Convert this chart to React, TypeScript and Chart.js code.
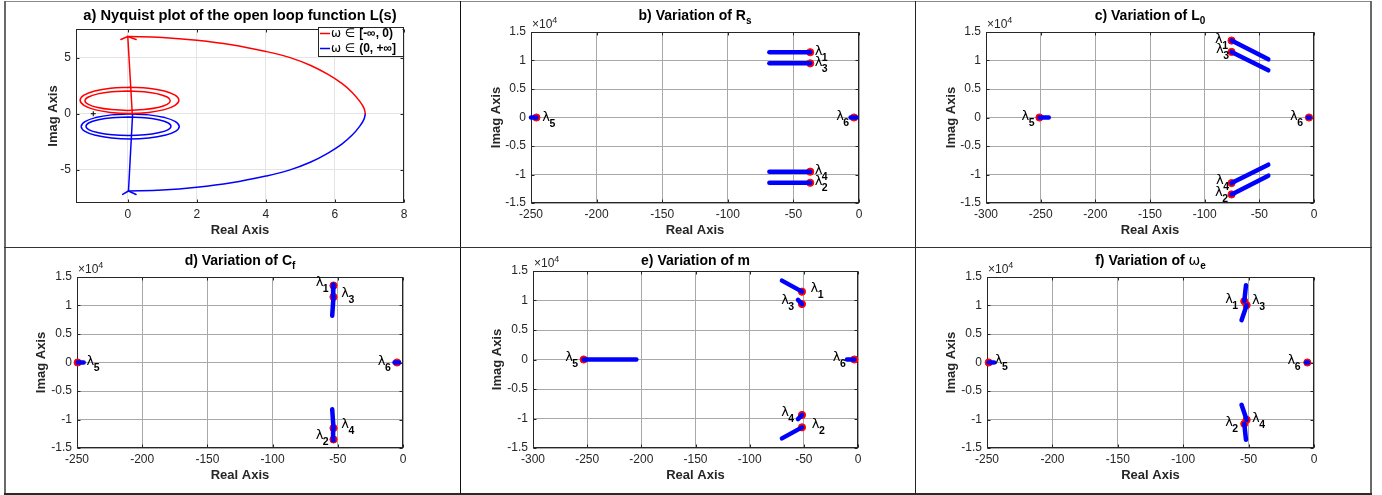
import React, { useEffect, useRef } from 'react';
import { Chart, registerables } from 'chart.js';
Chart.register(...registerables);

const FONT = "'Liberation Sans', Arial, Helvetica, sans-serif";
const GREEK = "'DejaVu Sans', 'Liberation Sans', sans-serif";
const RED = '#ff0000';
const BLUE = '#0000ff';
const TICKCOL = '#262626';

// ---------------- a) Nyquist plot data ----------------
const nyqXTicks = [0, 2, 4, 6, 8];
const nyqYTicks = [-5, 0, 5];

const redLoopOuterRe = [0.05, -0.5, -0.96, -1.27, -1.38, -1.27, -0.96, -0.5, 0.05, 0.6, 1.06, 1.37, 1.48, 1.37, 1.06, 0.6, 0.05];
const redLoopOuterIm = [2.37, 2.28, 2.03, 1.65, 1.2, 0.75, 0.37, 0.12, 0.03, 0.12, 0.37, 0.75, 1.2, 1.65, 2.03, 2.28, 2.37];
const redLoopInnerRe = [0, -0.47, -0.87, -1.14, -1.24, -1.14, -0.87, -0.47, 0, 0.47, 0.87, 1.14, 1.23, 1.14, 0.87, 0.47, 0];
const redLoopInnerIm = [2.02, 1.95, 1.77, 1.49, 1.16, 0.83, 0.55, 0.37, 0.3, 0.37, 0.55, 0.83, 1.16, 1.49, 1.77, 1.95, 2.02];
const blueLoopOuterRe = [0.07, -0.47, -0.93, -1.24, -1.35, -1.24, -0.93, -0.47, 0.07, 0.61, 1.07, 1.38, 1.49, 1.38, 1.07, 0.61, 0.07];
const blueLoopOuterIm = [-0.01, -0.1, -0.34, -0.7, -1.13, -1.56, -1.92, -2.16, -2.25, -2.16, -1.92, -1.56, -1.13, -0.7, -0.34, -0.1, -0.01];
const blueLoopInnerRe = [0.02, -0.45, -0.85, -1.12, -1.21, -1.12, -0.85, -0.45, 0.02, 0.49, 0.89, 1.16, 1.25, 1.16, 0.89, 0.49, 0.02];
const blueLoopInnerIm = [-0.3, -0.36, -0.54, -0.8, -1.12, -1.43, -1.69, -1.87, -1.93, -1.87, -1.69, -1.43, -1.12, -0.8, -0.54, -0.36, -0.3];
const redStemRe = [0.13, 0.0];
const redStemIm = [0.0, 6.88];
const blueStemRe = [0.14, 0.02];
const blueStemIm = [0.0, -6.88];
const redArcRe = [0.0, 1.0, 2.0, 3.0, 4.0, 4.7, 5.3, 5.8, 6.2, 6.5, 6.72, 6.84, 6.88];
const redArcIm = [6.88, 6.8, 6.55, 6.15, 5.55, 5.0, 4.3, 3.5, 2.7, 1.9, 1.1, 0.5, 0.0];
const blueArcRe = [6.88, 6.84, 6.72, 6.5, 6.2, 5.8, 5.3, 4.7, 4.0, 3.0, 2.0, 1.0, 0.02];
const blueArcIm = [0.0, -0.5, -1.1, -1.9, -2.7, -3.5, -4.3, -5.0, -5.55, -6.15, -6.55, -6.8, -6.88];
const redArrowRe = [-0.2, 0.0, 0.24];
const redArrowIm = [6.62, 6.88, 6.62];
const blueArrowRe = [-0.15, 0.02, 0.24];
const blueArrowIm = [-7.19, -6.88, -7.19];
const criticalRe = [-1];
const criticalIm = [0];

// ---------------- root locus common ----------------
const rlYTicks = [-15000, -10000, -5000, 0, 5000, 10000, 15000];
const xTicks250 = [-250, -200, -150, -100, -50, 0];
const xTicks300 = [-300, -250, -200, -150, -100, -50, 0];
const lambdaNames = ['1', '2', '3', '4', '5', '6'];

// b) Rs  (order λ1..λ6)
const rsStartRe = [-37.2, -37.2, -37.2, -37.2, -245.9, -3.8];
const rsStartIm = [11450, -11450, 9500, -9500, 0, 0];
const rsPathRe = [[-68.3, -37.2], [-68.3, -37.2], [-68.3, -37.2], [-68.3, -37.2], [-250, -245.9], [-6.4, -2.0]];
const rsPathIm = [[11450, 11450], [-11450, -11450], [9500, 9500], [-9500, -9500], [0, 0], [0, 0]];

// c) L0
const l0StartRe = [-75.4, -75.4, -75.4, -75.4, -251.1, -4.6];
const l0StartIm = [13500, -13500, 11500, -11500, 0, 0];
const l0PathRe = [[-75.4, -41.8], [-75.4, -41.8], [-75.4, -41.8], [-75.4, -41.8], [-251.1, -242.6], [-5.5, -4.0]];
const l0PathIm = [[13500, 10200], [-13500, -10200], [11500, 8275], [-11500, -8275], [0, 0], [0, 0]];

// d) Cf
const cfStartRe = [-53.3, -53.3, -53.3, -53.3, -249.5, -4.6];
const cfStartIm = [13500, -13500, 11500, -11500, 0, 0];
const cfPathRe = [[-53.3, -53.6], [-53.3, -53.6], [-53.3, -54.3], [-53.3, -54.3], [-249.5, -244.9], [-6.5, -3.0]];
const cfPathIm = [[13650, 11500], [-13650, -11500], [11500, 8200], [-11500, -8200], [0, 0], [0, 0]];

// e) m
const mStartRe = [-51.7, -51.7, -51.7, -51.7, -253.2, -3.4];
const mStartIm = [11500, -11500, 9400, -9400, 0, 0];
const mPathRe = [[-51.7, -70.2], [-51.7, -70.2], [-51.7, -55.4], [-51.7, -55.4], [-253.2, -204.6], [-3.4, -10.2]];
const mPathIm = [[11500, 13365], [-11500, -13365], [9400, 10094], [-9400, -10094], [0, 0], [0, 0]];

// f) ωe
const weStartRe = [-53.3, -53.3, -51.5, -51.5, -248.7, -5.1];
const weStartIm = [10750, -10750, 10050, -10050, 0, 0];
const wePathRe = [[-53.3, -52.0], [-53.3, -52.0], [-51.5, -55.4], [-51.5, -55.4], [-248.7, -244.6], [-6.0, -4.5]];
const wePathIm = [[10750, 13540], [-10750, -13540], [10050, 7430], [-10050, -7430], [0, 0], [0, 0]];

// ---------------- helpers ----------------
type Part = { t: string; font: string; dy?: number; color?: string };

function pts(xs: number[], ys: number[]) {
  return xs.map((x, i) => ({ x, y: ys[i] }));
}

function drawParts(ctx: CanvasRenderingContext2D, parts: Part[], x: number, y: number, align: 'left' | 'center' | 'right', baseline: CanvasTextBaseline) {
  ctx.textBaseline = baseline;
  ctx.textAlign = 'left';
  const ws = parts.map((p) => { ctx.font = p.font; return ctx.measureText(p.t).width; });
  const total = ws.reduce((a, b) => a + b, 0);
  let cx = align === 'left' ? x : align === 'center' ? x - total / 2 : x - total;
  parts.forEach((p, i) => {
    ctx.font = p.font;
    ctx.fillStyle = p.color || '#000';
    ctx.fillText(p.t, cx, y + (p.dy || 0));
    cx += ws[i];
  });
}

function lineDs(xs: number[], ys: number[], color: string, width: number, tension: number) {
  return {
    data: pts(xs, ys), showLine: true, borderColor: color, backgroundColor: color, borderWidth: width,
    pointRadius: 0, tension, fill: false, clip: false as any, borderCapStyle: 'round', borderJoinStyle: 'round',
  };
}

function rootLocusDatasets(startRe: number[], startIm: number[], pathRe: number[][], pathIm: number[][]) {
  const blue = pathRe.map((re, i) => lineDs(re, pathIm[i], BLUE, 4.5, 0));
  const red = {
    data: pts(startRe, startIm), showLine: false, pointRadius: 3.6, pointBackgroundColor: RED,
    pointBorderColor: RED, pointBorderWidth: 1, clip: false as any,
  };
  return [...blue, red];
}

type PanelCfg = {
  rect: [number, number, number, number];
  area: [number, number, number, number];
  xMin: number; xMax: number; yMin: number; yMax: number;
  xTicks: number[]; yTicks: number[];
  yFmt: (v: number) => string;
  gridColor: string;
  title: Part[]; titleY: number;
  ylabelDx: number;
  exponent: boolean;
  datasets: any[];
  lambdas?: { re: number[]; im: number[]; off: [number, number][] };
  legend?: boolean;
};

const TA = `bold 14.7px ${FONT}`;
const TB = `bold 14px ${FONT}`;
const TS = `bold 10px ${FONT}`;

function makeDecor(cfg: PanelCfg) {
  return {
    id: 'decor',
    beforeDatasetsDraw(chart: any) {
      const { ctx, chartArea: a, scales } = chart;
      ctx.save();
      ctx.strokeStyle = TICKCOL;
      ctx.lineWidth = 1;
      const l = Math.round(a.left) + 0.5, t = Math.round(a.top) + 0.5;
      const r = Math.round(a.right) - 0.5, b = Math.round(a.bottom) - 0.5;
      ctx.beginPath();
      for (const v of cfg.xTicks) {
        const p = Math.round(scales.x.getPixelForValue(v)) + 0.5;
        ctx.moveTo(p, b); ctx.lineTo(p, b - 3);
        ctx.moveTo(p, t); ctx.lineTo(p, t + 3);
      }
      for (const v of cfg.yTicks) {
        const p = Math.round(scales.y.getPixelForValue(v)) + 0.5;
        ctx.moveTo(l, p); ctx.lineTo(l + 3, p);
        ctx.moveTo(r, p); ctx.lineTo(r - 3, p);
      }
      ctx.stroke();
      ctx.strokeRect(l, t, r - l, b - t);
      ctx.restore();
    },
    afterDraw(chart: any) {
      const { ctx, chartArea: a, scales } = chart;
      const [cl, ct] = cfg.rect;
      ctx.save();
      // title
      drawParts(ctx, cfg.title, (a.left + a.right) / 2, cfg.titleY - ct, 'center', 'alphabetic');
      // axis labels
      ctx.fillStyle = TICKCOL;
      ctx.font = `bold 13px ${FONT}`;
      ctx.textAlign = 'center';
      ctx.textBaseline = 'middle';
      ctx.fillText('Real Axis', (a.left + a.right) / 2, a.bottom + 27);
      ctx.save();
      ctx.translate(a.left - cfg.ylabelDx, (a.top + a.bottom) / 2);
      ctx.rotate(-Math.PI / 2);
      ctx.fillText('Imag Axis', 0, 0);
      ctx.restore();
      // exponent
      if (cfg.exponent) {
        drawParts(ctx, [
          { t: '×10', font: `12px ${FONT}`, color: TICKCOL },
          { t: '4', font: `9px ${FONT}`, dy: -5, color: TICKCOL },
        ], a.left + 1, a.top - 4, 'left', 'alphabetic');
      }
      // lambda labels
      if (cfg.lambdas) {
        const { re, im, off } = cfg.lambdas;
        re.forEach((x, i) => {
          const px = scales.x.getPixelForValue(x) + off[i][0];
          const py = scales.y.getPixelForValue(im[i]) + off[i][1];
          ctx.font = `13px ${GREEK}`;
          ctx.fillStyle = '#000';
          ctx.textAlign = 'center';
          ctx.textBaseline = 'middle';
          ctx.fillText('λ', px, py);
          const w = ctx.measureText('λ').width;
          ctx.font = `bold 10.5px ${FONT}`;
          ctx.textAlign = 'left';
          ctx.fillText(lambdaNames[i], px + w / 2 - 0.5, py + 6.5);
        });
      }
      // legend (panel a)
      if (cfg.legend) {
        const bx = a.right - 86, by = a.top - 2.5, bw = 84.5, bh = 29;
        ctx.fillStyle = '#fff';
        ctx.fillRect(bx, by, bw, bh);
        ctx.strokeStyle = TICKCOL;
        ctx.lineWidth = 1;
        ctx.strokeRect(Math.round(bx) + 0.5, Math.round(by) + 0.5, Math.round(bw), Math.round(bh));
        const rows: [string, string][] = [[RED, '[-∞, 0)'], [BLUE, '(0, +∞]']];
        rows.forEach(([c, txt], k) => {
          const yy = by + 7 + k * 15;
          ctx.strokeStyle = c;
          ctx.lineWidth = 1.5;
          ctx.beginPath();
          ctx.moveTo(bx + 2, yy);
          ctx.lineTo(bx + 12, yy);
          ctx.stroke();
          drawParts(ctx, [
            { t: 'ω ∈ ', font: `12px ${GREEK}` },
            { t: txt, font: `bold 12px ${FONT}` },
          ], bx + 13, yy + 0.5, 'left', 'middle');
        });
      }
      ctx.restore();
    },
  };
}

function Panel({ cfg }: { cfg: PanelCfg }) {
  const ref = useRef<HTMLCanvasElement>(null);
  useEffect(() => {
    const [cl, ct, cw, ch] = cfg.rect;
    const [L, T, R, B] = cfg.area;
    const tickFont = { family: FONT, size: 12 };
    const chart = new Chart(ref.current as HTMLCanvasElement, {
      type: 'scatter',
      data: { datasets: cfg.datasets },
      options: {
        responsive: false,
        animation: false,
        events: [],
        layout: { padding: { left: 0, top: T - ct, right: cl + cw - R, bottom: 0 } },
        plugins: { legend: { display: false }, tooltip: { enabled: false }, title: { display: false } },
        scales: {
          x: {
            type: 'linear', min: cfg.xMin, max: cfg.xMax,
            afterFit: (s: any) => { s.height = ct + ch - B; },
            afterBuildTicks: (s: any) => { s.ticks = cfg.xTicks.map((v) => ({ value: v })); },
            grid: { color: cfg.gridColor, lineWidth: 1, drawTicks: false },
            border: { display: false },
            ticks: { padding: 4, color: TICKCOL, font: tickFont, maxRotation: 0, autoSkip: false, callback: (v: any) => String(v) },
          },
          y: {
            type: 'linear', min: cfg.yMin, max: cfg.yMax,
            afterFit: (s: any) => { s.width = L - cl; },
            afterBuildTicks: (s: any) => { s.ticks = cfg.yTicks.map((v) => ({ value: v })); },
            grid: { color: cfg.gridColor, lineWidth: 1, drawTicks: false },
            border: { display: false },
            ticks: { padding: 5, color: TICKCOL, font: tickFont, autoSkip: false, callback: (v: any) => cfg.yFmt(Number(v)) },
          },
        },
      } as any,
      plugins: [makeDecor(cfg) as any],
    });
    return () => chart.destroy();
  }, []);
  const [cl, ct, cw, ch] = cfg.rect;
  return <canvas ref={ref} width={cw} height={ch} style={{ position: 'absolute', left: cl, top: ct, width: cw, height: ch }} />;
}

const rlFmt = (v: number) => String(Math.round(v / 1000) / 10);
const RLGRID = '#a8a8a8';

const panels: PanelCfg[] = [
  {
    rect: [6, 2, 453, 244], area: [76, 29, 404, 203],
    xMin: -1.5, xMax: 8, yMin: -7.95, yMax: 7.55, xTicks: nyqXTicks, yTicks: nyqYTicks,
    yFmt: (v) => String(v), gridColor: '#e4e4e4',
    title: [{ t: 'a) Nyquist plot of the open loop function L(s)', font: TA }], titleY: 19.5,
    ylabelDx: 23, exponent: false, legend: true,
    datasets: [
      lineDs(redLoopOuterRe, redLoopOuterIm, RED, 1.5, 0.4),
      lineDs(redLoopInnerRe, redLoopInnerIm, RED, 1.5, 0.4),
      lineDs(blueLoopOuterRe, blueLoopOuterIm, BLUE, 1.5, 0.4),
      lineDs(blueLoopInnerRe, blueLoopInnerIm, BLUE, 1.5, 0.4),
      lineDs(redStemRe, redStemIm, RED, 1.5, 0),
      lineDs(blueStemRe, blueStemIm, BLUE, 1.5, 0),
      lineDs(redArcRe, redArcIm, RED, 1.5, 0.4),
      lineDs(blueArcRe, blueArcIm, BLUE, 1.5, 0.4),
      lineDs(redArrowRe, redArrowIm, RED, 1.5, 0),
      lineDs(blueArrowRe, blueArrowIm, BLUE, 1.5, 0),
      { data: pts(criticalRe, criticalIm), showLine: false, pointStyle: 'cross', pointRadius: 2.5, borderColor: '#000', pointBorderWidth: 1, clip: false },
    ],
  },
  {
    rect: [461, 2, 453, 244], area: [531, 32, 859, 203],
    xMin: -250, xMax: 0, yMin: -15000, yMax: 15000, xTicks: xTicks250, yTicks: rlYTicks,
    yFmt: rlFmt, gridColor: RLGRID,
    title: [{ t: 'b) Variation of R', font: TB }, { t: 's', font: TS, dy: 4 }], titleY: 20,
    ylabelDx: 35, exponent: true,
    datasets: rootLocusDatasets(rsStartRe, rsStartIm, rsPathRe, rsPathIm),
    lambdas: { re: rsStartRe, im: rsStartIm, off: [[8.3, -1], [8.3, -1], [8.3, -1], [8.3, -1], [9.7, 0], [-14, -1]] },
  },
  {
    rect: [916, 2, 454, 244], area: [986, 32, 1314, 203],
    xMin: -300, xMax: 0, yMin: -15000, yMax: 15000, xTicks: xTicks300, yTicks: rlYTicks,
    yFmt: rlFmt, gridColor: RLGRID,
    title: [{ t: 'c) Variation of L', font: TB }, { t: '0', font: TS, dy: 4 }], titleY: 20,
    ylabelDx: 35, exponent: true,
    datasets: rootLocusDatasets(l0StartRe, l0StartIm, l0PathRe, l0PathIm),
    lambdas: { re: l0StartRe, im: l0StartIm, off: [[-12.7, -1], [-12.7, -2], [-11.7, -2.7], [-11.7, -2.7], [-14, -1.3], [-15, -1.3]] },
  },
  {
    rect: [6, 248, 453, 245], area: [77, 277, 403, 448],
    xMin: -250, xMax: 0, yMin: -15000, yMax: 15000, xTicks: xTicks250, yTicks: rlYTicks,
    yFmt: rlFmt, gridColor: RLGRID,
    title: [{ t: 'd) Variation of C', font: TB }, { t: 'f', font: TS, dy: 4 }], titleY: 265,
    ylabelDx: 36, exponent: true,
    datasets: rootLocusDatasets(cfStartRe, cfStartIm, cfPathRe, cfPathIm),
    lambdas: { re: cfStartRe, im: cfStartIm, off: [[-14, -2.7], [-14, -4], [11.7, -3.3], [11.7, -3.7], [12.7, -0.7], [-15.3, -0.7]] },
  },
  {
    rect: [461, 248, 453, 245], area: [533, 271, 858, 448],
    xMin: -300, xMax: 0, yMin: -15000, yMax: 15000, xTicks: xTicks300, yTicks: rlYTicks,
    yFmt: rlFmt, gridColor: RLGRID,
    title: [{ t: 'e) Variation of m', font: TB }], titleY: 265,
    ylabelDx: 36, exponent: true,
    datasets: rootLocusDatasets(mStartRe, mStartIm, mPathRe, mPathIm),
    lambdas: { re: mStartRe, im: mStartIm, off: [[12.3, -2.7], [13.7, -2.7], [-17, -3.3], [-17, -2], [-14.7, -1.7], [-17.7, -1.7]] },
  },
  {
    rect: [916, 248, 454, 245], area: [987, 277, 1314, 448],
    xMin: -250, xMax: 0, yMin: -15000, yMax: 15000, xTicks: xTicks250, yTicks: rlYTicks,
    yFmt: rlFmt, gridColor: RLGRID,
    title: [{ t: 'f) Variation of ', font: TB }, { t: 'ω', font: `14px ${GREEK}` }, { t: 'e', font: TS, dy: 4 }], titleY: 265,
    ylabelDx: 36, exponent: true,
    datasets: rootLocusDatasets(weStartRe, weStartIm, wePathRe, wePathIm),
    lambdas: { re: weStartRe, im: weStartIm, off: [[-15.3, -2], [-15.3, -1.3], [9.3, -4.3], [9.3, -0.7], [10, -1.7], [-16, -1.7]] },
  },
];

function Line({ l, t, w, h, c }: { l: number; t: number; w: number; h: number; c: string }) {
  return <div style={{ position: 'absolute', left: l, top: t, width: w, height: h, background: c }} />;
}

export default function App() {
  return (
    <div style={{ position: 'absolute', left: 0, top: 0, width: 1382, height: 495, background: '#fff', overflow: 'hidden' }}>
      {panels.map((p, i) => <Panel key={i} cfg={p} />)}
      <Line l={4} t={1} w={1368} h={1} c="#8a8a8a" />
      <Line l={4} t={1} w={2} h={494} c="#6a6a6a" />
      <Line l={1370} t={1} w={2} h={494} c="#6a6a6a" />
      <Line l={4} t={493} w={1368} h={1.5} c="#2a2a2a" />
      <Line l={459.5} t={1} w={1} h={493} c="#111" />
      <Line l={914.5} t={1} w={1.5} h={493} c="#222" />
      <Line l={4} t={247} w={1368} h={1} c="#333" />
    </div>
  );
}
